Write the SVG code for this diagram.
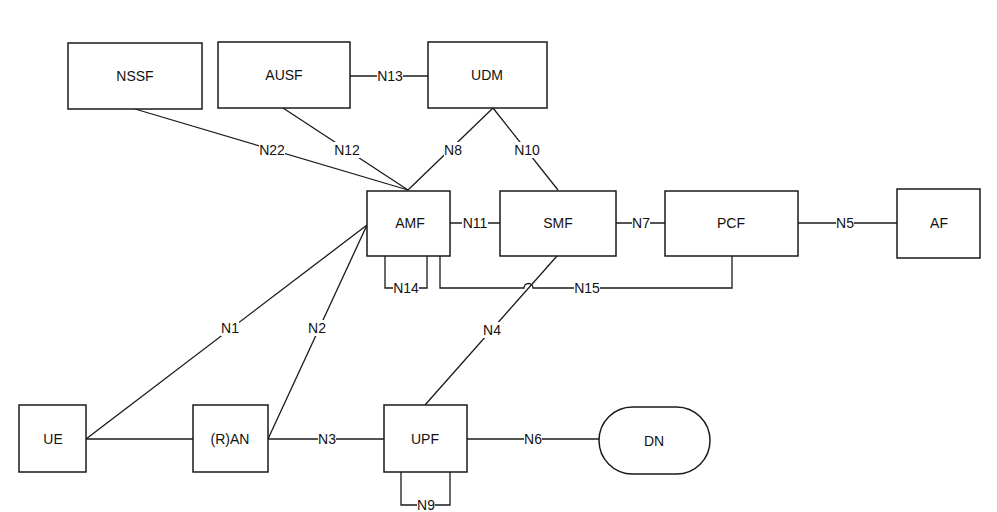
<svg xmlns="http://www.w3.org/2000/svg" width="997" height="512" viewBox="0 0 997 512">
<style>
.box{fill:#fff;stroke:#1a1a1a;stroke-width:1.5}
.ln{fill:none;stroke:#1a1a1a;stroke-width:1.3}
.t{font-family:"Liberation Sans",Arial,sans-serif;font-size:14px;fill:#111;text-anchor:middle;dominant-baseline:central}
.bg{fill:#fff}
</style>
<rect width="997" height="512" fill="#fff"/>
<g id="connectors">
<line class="ln" x1="350" y1="76" x2="428" y2="76"/>
<line class="ln" x1="135" y1="109" x2="408" y2="190"/>
<line class="ln" x1="283" y1="108" x2="408" y2="190"/>
<line class="ln" x1="493" y1="108" x2="408" y2="190"/>
<line class="ln" x1="493" y1="108" x2="558" y2="190"/>
<line class="ln" x1="450" y1="223" x2="500" y2="223"/>
<line class="ln" x1="616" y1="223" x2="665" y2="223"/>
<line class="ln" x1="798" y1="223" x2="897" y2="223"/>
<polyline class="ln" points="385,256 385,288 427,288 427,256"/>
<path class="ln" d="M440,256 V288 H524 A4.5,4.5 0 0 1 533,288 H732 V256"/>
<line class="ln" x1="557" y1="256" x2="425" y2="405"/>
<line class="ln" x1="86" y1="439" x2="367" y2="225"/>
<line class="ln" x1="268" y1="439" x2="367" y2="225"/>
<line class="ln" x1="86" y1="439" x2="193" y2="439"/>
<line class="ln" x1="268" y1="439" x2="384" y2="439"/>
<line class="ln" x1="467" y1="439" x2="599" y2="439"/>
<polyline class="ln" points="401,472 401,505 450,505 450,472"/>
<g id="labels">
<rect class="bg" x="377" y="68" width="26" height="16"/><text class="t" x="390" y="76">N13</text>
<rect class="bg" x="259" y="142" width="26" height="16"/><text class="t" x="272" y="150">N22</text>
<rect class="bg" x="334" y="142" width="26" height="16"/><text class="t" x="347" y="150">N12</text>
<rect class="bg" x="444" y="142" width="18" height="16"/><text class="t" x="453" y="150">N8</text>
<rect class="bg" x="514" y="142" width="26" height="16"/><text class="t" x="527" y="150">N10</text>
<rect class="bg" x="462" y="215" width="26" height="16"/><text class="t" x="475" y="223">N11</text>
<rect class="bg" x="632" y="215" width="18" height="16"/><text class="t" x="641" y="223">N7</text>
<rect class="bg" x="836" y="215" width="18" height="16"/><text class="t" x="845" y="223">N5</text>
<rect class="bg" x="393" y="280" width="26" height="16"/><text class="t" x="406" y="288">N14</text>
<rect class="bg" x="574" y="280" width="26" height="16"/><text class="t" x="587" y="288">N15</text>
<rect class="bg" x="221" y="320" width="18" height="16"/><text class="t" x="230" y="328">N1</text>
<rect class="bg" x="308" y="320" width="18" height="16"/><text class="t" x="317" y="328">N2</text>
<rect class="bg" x="483" y="322" width="18" height="16"/><text class="t" x="492" y="330">N4</text>
<rect class="bg" x="318" y="431" width="18" height="16"/><text class="t" x="327" y="439">N3</text>
<rect class="bg" x="524" y="431" width="18" height="16"/><text class="t" x="533" y="439">N6</text>
<rect class="bg" x="417" y="497" width="18" height="16"/><text class="t" x="426" y="505">N9</text>
</g>
</g>
<g id="NSSF"><rect class="box" x="68" y="43" width="134" height="66"/><text class="t" x="135" y="76">NSSF</text></g>
<g id="AUSF"><rect class="box" x="218" y="42" width="132" height="66"/><text class="t" x="284" y="75">AUSF</text></g>
<g id="UDM"><rect class="box" x="428" y="42" width="119" height="66"/><text class="t" x="487" y="75">UDM</text></g>
<g id="AMF"><rect class="box" x="367" y="191" width="83" height="65"/><text class="t" x="410" y="223">AMF</text></g>
<g id="SMF"><rect class="box" x="500" y="191" width="116" height="65"/><text class="t" x="558" y="223">SMF</text></g>
<g id="PCF"><rect class="box" x="665" y="191" width="133" height="65"/><text class="t" x="731" y="223">PCF</text></g>
<g id="AF"><rect class="box" x="897" y="189" width="83" height="69"/><text class="t" x="939" y="223">AF</text></g>
<g id="UE"><rect class="box" x="19" y="405" width="67" height="67"/><text class="t" x="53" y="439">UE</text></g>
<g id="RAN"><rect class="box" x="193" y="405" width="75" height="67"/><text class="t" x="230" y="439">(R)AN</text></g>
<g id="UPF"><rect class="box" x="384" y="405" width="83" height="67"/><text class="t" x="425" y="439">UPF</text></g>
<g id="DN"><rect class="box" x="599" y="407" width="111" height="67" rx="33.5" ry="33.5"/><text class="t" x="654" y="441">DN</text></g>
</svg>
